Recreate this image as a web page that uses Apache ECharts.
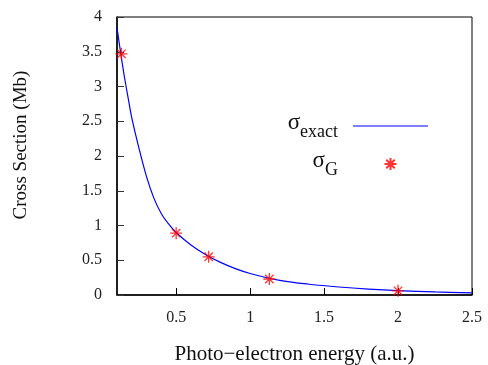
<!DOCTYPE html>
<html>
<head>
<meta charset="utf-8">
<script src="https://cdn.jsdelivr.net/npm/echarts@6/dist/echarts.min.js"></script>
<style>
  html, body { margin: 0; padding: 0; background: #fff; }
  #chart { width: 488px; height: 365px; }
</style>
</head>
<body>
<div id="chart"></div>
<script>
// Exact cross section curve (energy in a.u., cross section in Mb)
const exactEnergy = [0.10, 0.125, 0.15, 0.175, 0.20, 0.25, 0.30, 0.35, 0.40, 0.45, 0.50, 0.60, 0.70, 0.80, 0.90, 1.00, 1.20, 1.40, 1.60, 1.80, 2.00, 2.25, 2.50];
const exactSigma  = [3.85, 3.48, 3.14, 2.84, 2.55, 2.10, 1.70, 1.39, 1.17, 1.02, 0.90, 0.72, 0.58, 0.47, 0.38, 0.31, 0.21, 0.155, 0.115, 0.085, 0.063, 0.045, 0.030];

// Computed points sigma_G
const gEnergy = [0.13, 0.50, 0.72, 1.13, 2.00];
const gSigma  = [3.47, 0.89, 0.55, 0.23, 0.06];

// Tick labels
const xTicks = [0.5, 1, 1.5, 2, 2.5];
const yTicks = [0, 0.5, 1, 1.5, 2, 2.5, 3, 3.5, 4];

const FONT = '"Liberation Serif", "Times New Roman", serif';
const STAR = 'path://M10,0L10,20M0,10L20,10M3,3L17,17M3,17L17,3';
const LINE_ICON = 'path://M0,0H100V1.6H0Z';

const exactData = exactEnergy.map((x, i) => [x, exactSigma[i]]);
const gData = gEnergy.map((x, i) => [x, gSigma[i]]);

const chart = echarts.init(document.getElementById('chart'), null, { renderer: 'canvas' });
chart.setOption({
  animation: false,
  backgroundColor: '#fff',
  grid: {
    left: 117, right: 16, top: 17, bottom: 70,
    outerBoundsMode: 'none',
    show: true, borderColor: '#000', borderWidth: 1, backgroundColor: 'transparent'
  },
  legend: {
    data: [{ name: 'exact', icon: LINE_ICON }, 'G'],
    orient: 'vertical', align: 'right',
    right: 60, top: 111, padding: 0,
    itemWidth: 75, itemHeight: 12, itemGap: 8,
    formatter: n => '{s|σ}{sub|' + n + '}',
    textStyle: {
      rich: {
        s: { fontFamily: FONT, fontSize: 23, lineHeight: 24, verticalAlign: 'top', color: '#111' },
        sub: { fontFamily: FONT, fontSize: 18, padding: [12, 10, 0, 0], verticalAlign: 'bottom', color: '#111' }
      }
    }
  },
  xAxis: {
    type: 'value', min: 0.1, max: 2.5,
    name: 'Photo−electron energy (a.u.)',
    nameLocation: 'middle', nameGap: 49,
    nameTextStyle: { fontFamily: FONT, fontSize: 21, color: '#111' },
    axisLine: { show: true, onZero: false, lineStyle: { color: '#000', width: 1.5 } },
    axisTick: { show: true, inside: true, length: 7, customValues: xTicks, lineStyle: { color: '#000' } },
    axisLabel: { customValues: xTicks, margin: 15, fontFamily: FONT, fontSize: 16, color: '#222',
                 formatter: v => String(v) },
    splitLine: { show: false }
  },
  yAxis: {
    type: 'value', min: yTicks[0], max: yTicks[yTicks.length - 1], interval: 0.5,
    name: 'Cross Section (Mb)',
    nameLocation: 'middle', nameGap: 86,
    nameTextStyle: { fontFamily: FONT, fontSize: 19, color: '#111', padding: [0, 0, 0, 22] },
    axisLine: { show: true, lineStyle: { color: '#000', width: 1.5 } },
    axisTick: { show: true, inside: true, length: 7, lineStyle: { color: '#333' } },
    axisLabel: { margin: 15, fontFamily: FONT, fontSize: 16, color: '#222',
                 formatter: v => String(v) },
    splitLine: { show: false }
  },
  series: [
    {
      name: 'exact', type: 'line', data: exactData,
      smooth: 0.35, showSymbol: false, symbol: 'none',
      lineStyle: { color: '#0000ff', width: 1.2 },
      itemStyle: { color: '#0000ff' },
      z: 2
    },
    {
      name: 'G', type: 'scatter', data: gData,
      symbol: STAR, symbolSize: 12, symbolKeepAspect: true,
      itemStyle: { color: '#ff0000', borderColor: '#ff0000', borderWidth: 1.3 },
      z: 3
    }
  ]
});
</script>
</body>
</html>
